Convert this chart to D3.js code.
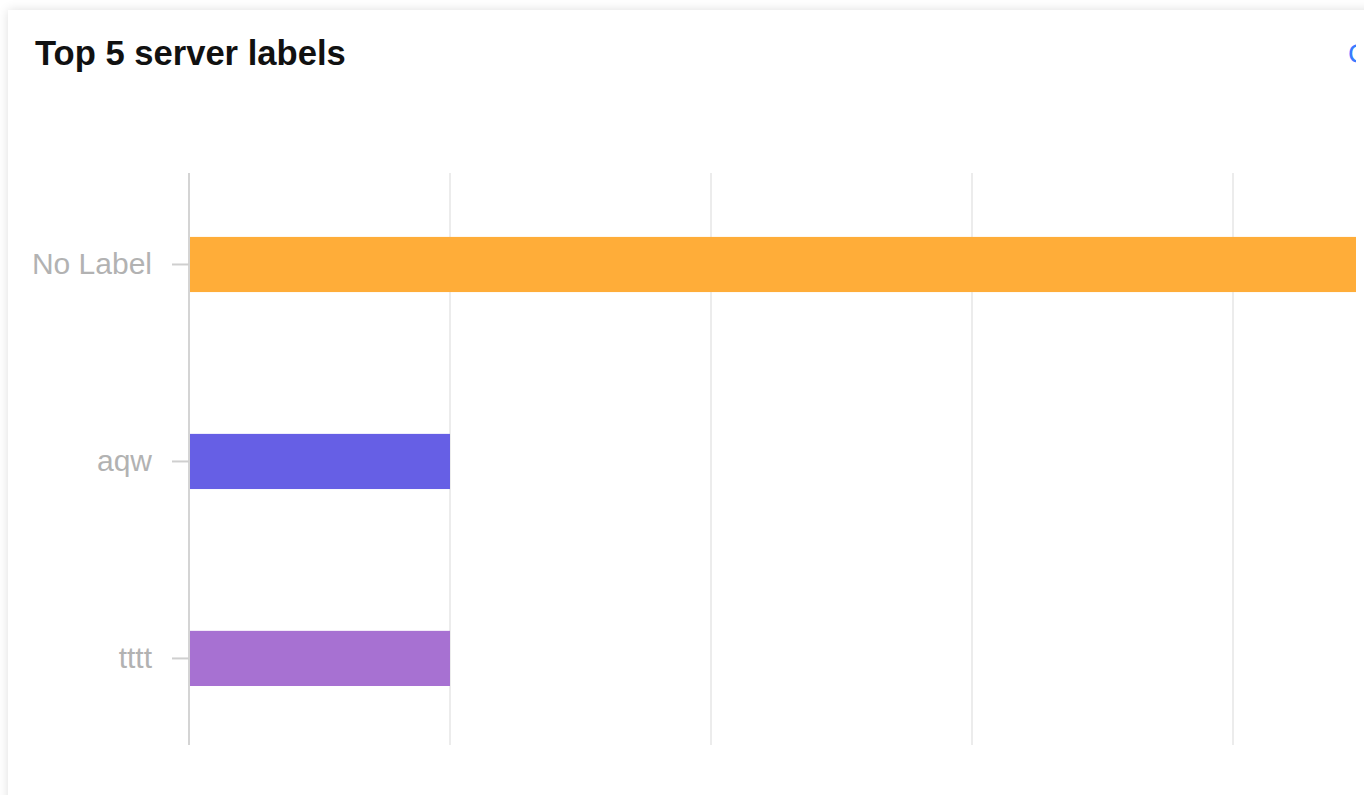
<!DOCTYPE html>
<html>

<head>
    <title>Top 5 server labels</title>
    <style>
        body {
            margin: 0;
            background: #fff;
            overflow: hidden;
            font-family: "Liberation Sans", Arial, sans-serif;
        }

        .card {
            position: absolute;
            left: 8px;
            top: 10px;
            width: 1500px;
            height: 900px;
            background: #fff;
            box-shadow: 0 0 10px rgba(0, 0, 0, 0.13);
        }

        svg {
            position: absolute;
            left: 0;
            top: 0;
            overflow: hidden;
        }
    </style>
    <script src="https://d3js.org/d3.v7.min.js"></script>
</head>

<body>
    <div class="card"></div>
    <svg width="1356" height="795"></svg>

    <script>
        var labels = ["No Label", "aqw", "tttt"];
        var counts = [5, 1, 1];
        var colors = ["#ffad39", "#665fe5", "#a771d2"];
        var xTicks = [0, 1, 2, 3, 4, 5];

        var svg = d3.select("svg");

        // title + cut-off link on the right
        svg.append("text")
            .attr("x", 35).attr("y", 65)
            .style("font-size", "34.6px")
            .style("font-weight", "bold")
            .style("fill", "#111")
            .text("Top 5 server labels");

        svg.append("text")
            .attr("x", 1348).attr("y", 63)
            .style("font-size", "28px")
            .style("fill", "#3a7bff")
            .text("Configure");

        var x = d3.scaleLinear().domain([0, 5]).range([189, 1494]);
        var y = d3.scaleBand().domain(labels).range([173, 745])
            .paddingInner(0.72).paddingOuter(0.312).align(0.52);

        // grid lines
        svg.append("g")
            .selectAll("line")
            .data(xTicks.slice(1))
            .enter().append("line")
            .attr("x1", function (d) { return x(d); })
            .attr("x2", function (d) { return x(d); })
            .attr("y1", 173)
            .attr("y2", 745)
            .attr("stroke", "#ececec")
            .attr("stroke-width", 2);

        // bars
        svg.append("g")
            .selectAll("rect")
            .data(labels)
            .enter().append("rect")
            .attr("x", x(0))
            .attr("y", function (d) { return y(d); })
            .attr("height", y.bandwidth())
            .attr("width", function (d, i) { return x(counts[i]) - x(0); })
            .attr("fill", function (d, i) { return colors[i]; });

        // category axis
        var yAxis = svg.append("g")
            .attr("transform", "translate(189,0)")
            .call(d3.axisLeft(y).tickSize(17).tickPadding(20));

        yAxis.select(".domain")
            .attr("d", "M0,173V745")
            .attr("stroke", "#d4d4d4")
            .attr("stroke-width", 2);
        yAxis.selectAll(".tick line")
            .attr("stroke", "#cfcfcf")
            .attr("stroke-width", 2);
        yAxis.selectAll(".tick text")
            .style("font-size", "30px")
            .style("font-family", "'Liberation Sans', Arial, sans-serif")
            .style("fill", "#b2b2b2");
    </script>
</body>

</html>
